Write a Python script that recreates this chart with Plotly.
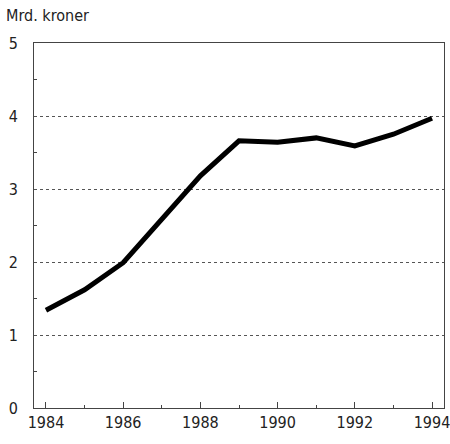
import plotly.graph_objects as go

years = [1984, 1985, 1986, 1987, 1988, 1989, 1990, 1991, 1992, 1993, 1994]
values = [1.34, 1.62, 1.99, 2.58, 3.18, 3.66, 3.64, 3.70, 3.59, 3.75, 3.97]
x_ticks = [1984, 1986, 1988, 1990, 1992, 1994]
y_ticks = [0, 1, 2, 3, 4, 5]

font_family = "DejaVu Sans Condensed, Liberation Sans Narrow, Arial Narrow, sans-serif"

fig = go.Figure()
fig.add_trace(go.Scatter(x=years, y=values, mode="lines",
                         line=dict(color="black", width=5), showlegend=False))

fig.update_layout(
    width=450, height=444,
    margin=dict(l=34, r=6, t=43, b=36),
    paper_bgcolor="white", plot_bgcolor="white",
    font=dict(family=font_family, size=16, color="#222"),
    annotations=[dict(text="Mrd. kroner", x=0, y=1, xref="paper", yref="paper",
                      xanchor="left", yanchor="bottom", xshift=-30, yshift=16,
                      showarrow=False, font=dict(size=16, family=font_family))],
)
fig.update_xaxes(range=[1983.69, 1994.31], tickvals=x_ticks, ticktext=[str(v) for v in x_ticks],
                 showgrid=False, showline=True, linecolor="#444", linewidth=1, mirror=True,
                 ticks="inside", ticklen=6, tickcolor="#444", ticklabeloverflow="allow",
                 minor=dict(tickvals=[1985, 1987, 1989, 1991, 1993], ticks="inside", ticklen=3, tickcolor="#444"),
                 zeroline=False, ticklabelstandoff=0, automargin=False)
fig.update_yaxes(range=[0, 5], tickvals=y_ticks, showgrid=True, gridcolor="#555", griddash="dot", gridwidth=1,
                 showline=True, linecolor="#444", linewidth=1, mirror=True,
                 ticks="", minor=dict(tickvals=[0.5, 1.5, 2.5, 3.5, 4.5], ticks="inside", ticklen=3, tickcolor="#444"),
                 zeroline=False, ticklabelstandoff=12, automargin=False)

fig.write_html("out.html", config={"displayModeBar": False},
               post_script="document.body.style.margin='0';")
